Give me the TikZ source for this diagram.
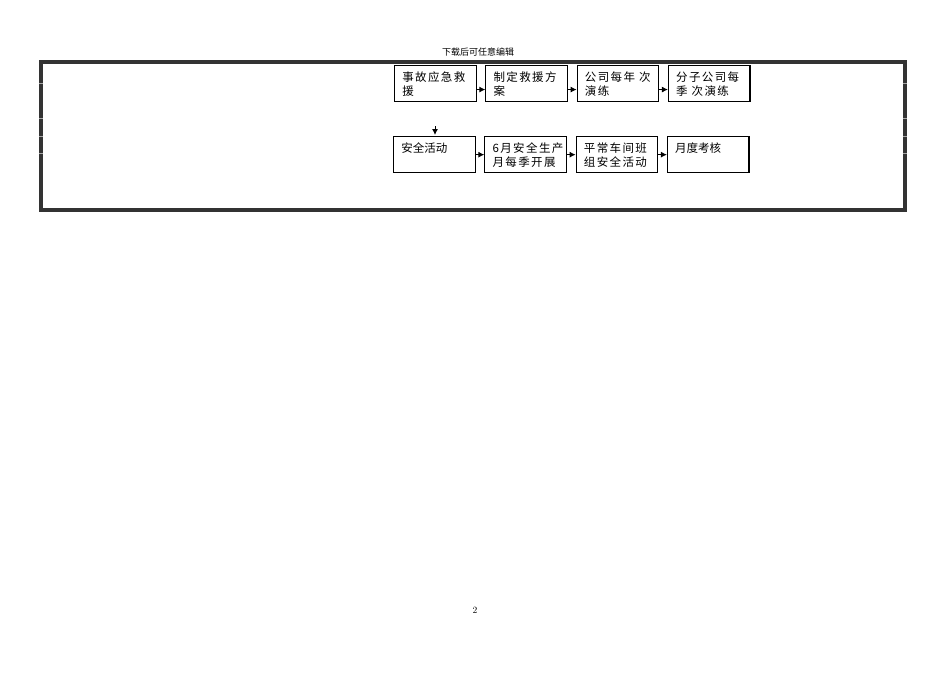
\documentclass[tikz,border=0pt]{standalone}
\usepackage{fontspec}
\newfontfamily\cjk{Noto Sans CJK SC}
\newfontfamily\cjkwide[LetterSpace=12]{Noto Sans CJK SC}
\usetikzlibrary{positioning, arrows.meta}
\newlength\Boxwd
\setlength\Boxwd{74pt}
\newcommand\Boxtext[2]{%
  \parbox[c][36pt][t]{\Boxwd}{\raggedright\leftskip=4pt\rule{0pt}{16pt}#1#2}}

\begin{document}
\begin{tikzpicture}[x=1pt, y=-1pt,
box/.style={
  rectangle, draw, line width=1.1pt,
  minimum width=81.5pt, minimum height=35pt,
  inner sep=0pt, font=\fontsize{11.5pt}{14pt}\selectfont
},
link/.style={-{Latex[length=6pt,width=6pt]}, line width=0.9pt}]
\useasboundingbox[fill=white] (0,0) rectangle (950,672);
% page text
\node (head) at (478,52) {\cjk\fontsize{9pt}{10pt}\selectfont 下载后可任意编辑};
\node (pageno) at (475,610) {\fontsize{9.5pt}{10pt}\selectfont 2};
% frame
\draw[black!80, line width=3.6pt] (41,62) rectangle (905,210);
\foreach \y in {83,118,136,153}{
  \draw[gray!70, line width=0.4pt] (39,\y) -- (43,\y);
  \draw[gray!70, line width=0.4pt] (903,\y) -- (907,\y);
}
% first row
\node (rescue) [box, anchor=north west] at (394,65)
  {\Boxtext{\cjkwide}{事故应急救\\援}};
\node (plan) [box, right=8.7pt of rescue]
  {\Boxtext{\cjkwide}{制定救援方\\案}};
\node (drill) [box, right=8.7pt of plan]
  {\Boxtext{\cjkwide}{公司每年 次\\演练}};
\node (subdrill) [box, right=8.7pt of drill]
  {\Boxtext{\cjkwide}{分子公司每\\季 次演练}};
% second row
\node (activity) [box, below=34pt of rescue, xshift=-1pt]
  {\Boxtext{\cjk}{安全活动}};
\node (june) [box, right=8.7pt of activity]
  {\Boxtext{\cjkwide}{6月安全生产\\月每季开展}};
\node (team) [box, right=8.7pt of june]
  {\Boxtext{\cjkwide}{平常车间班\\组安全活动}};
\node (monthly) [box, right=8.7pt of team]
  {\Boxtext{\cjk}{月度考核}};
% arrows
\draw[link] ([yshift=-6pt]rescue.east) -- ([yshift=-6pt]plan.west);
\draw[link] ([yshift=-6pt]plan.east) -- ([yshift=-6pt]drill.west);
\draw[link] ([yshift=-6pt]drill.east) -- ([yshift=-6pt]subdrill.west);
\draw[link] (activity.east) -- (june.west);
\draw[link] (june.east) -- (team.west);
\draw[link] (team.east) -- (monthly.west);
\coordinate (downtop) at (435,126);
\coordinate (downend) at (435,135);
\draw[link] (downtop) -- (downend);
\end{tikzpicture}
\end{document}
